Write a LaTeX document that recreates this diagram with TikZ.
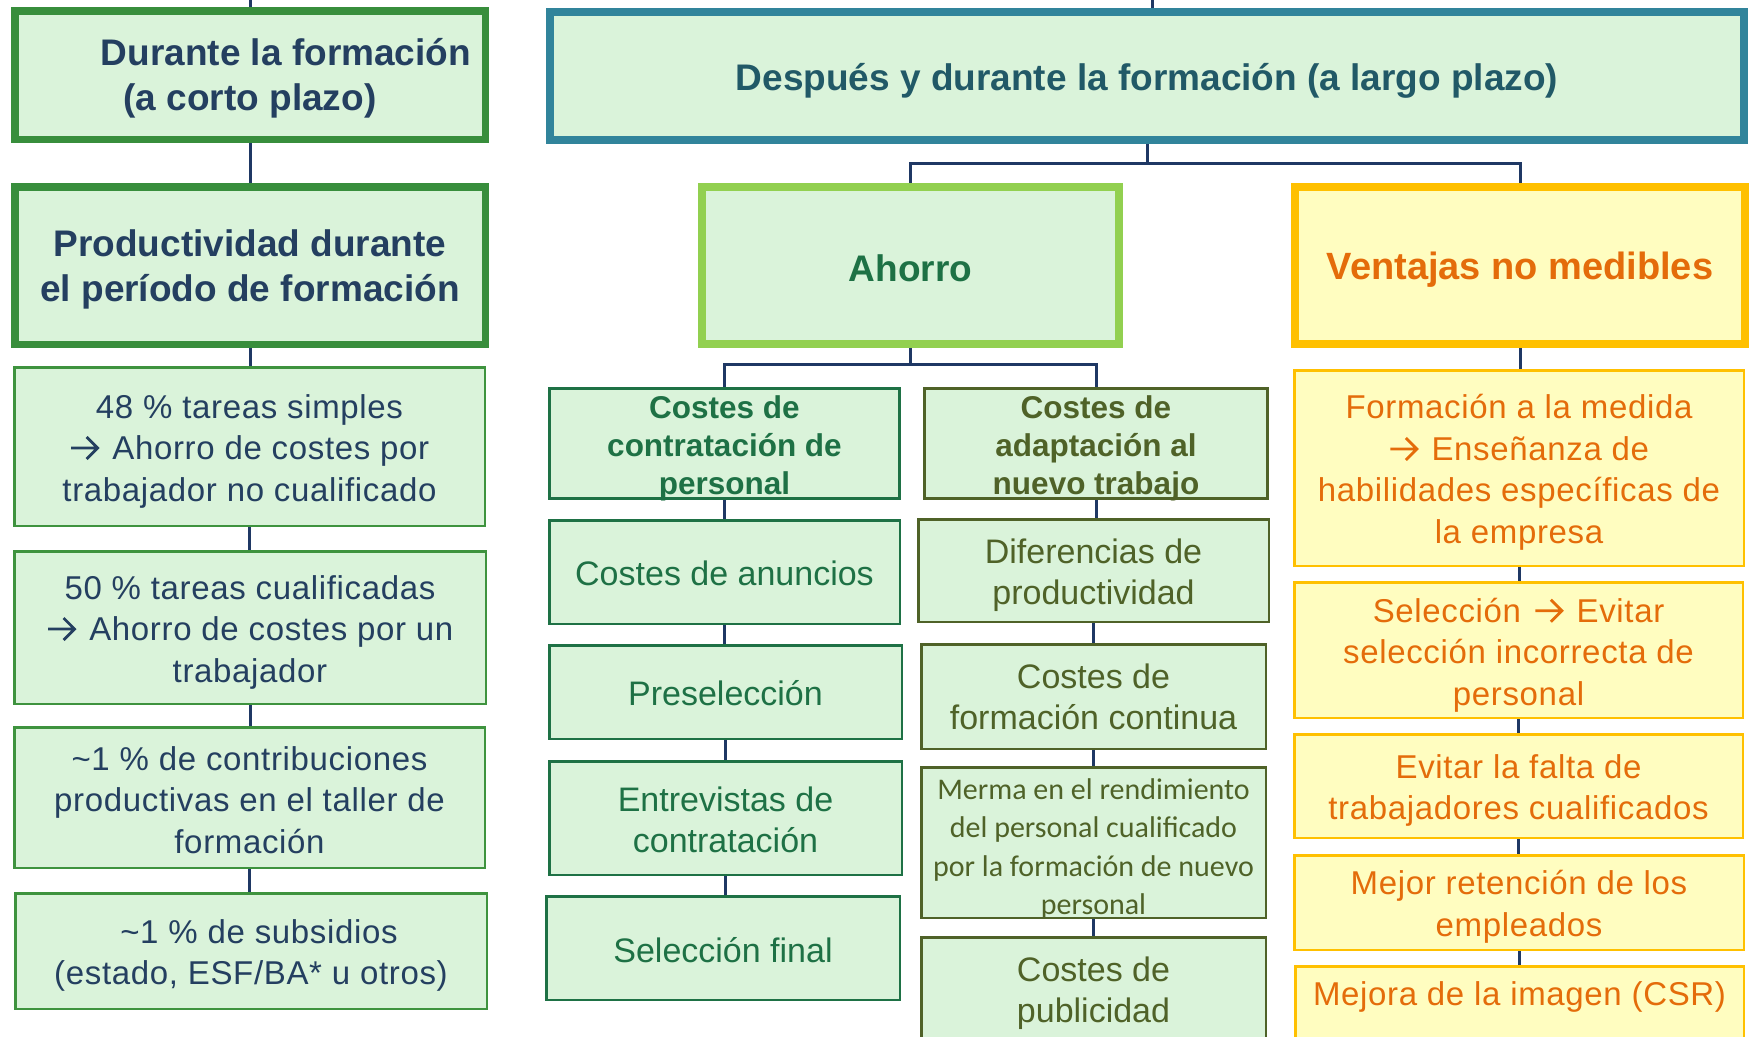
\documentclass[tikz,border=0pt]{standalone}
\usepackage{fontspec}
\setmainfont{Liberation Sans}
\newfontfamily\spacedfont[LetterSpace=2]{Liberation Sans}
\newfontfamily\calfont{Carlito}
\newcommand\arr{\tikz[baseline=0pt, x=1pt, y=1pt]{\draw[draw=., line width=2.8pt, line join=miter] (0,11.5) -- (26.5,11.5) (15.5,22.5) -- (26.5,11.5) -- (15.5,0.5);}\hspace{3.5pt}}
\definecolor{fillG}{HTML}{DAF3DA}
\definecolor{fillY}{HTML}{FFFDC0}
\definecolor{gThick}{HTML}{388E3C}
\definecolor{gThin}{HTML}{3E933E}
\definecolor{navy}{HTML}{243F60}
\definecolor{tealB}{HTML}{31849B}
\definecolor{tealT}{HTML}{215967}
\definecolor{lime}{HTML}{92D050}
\definecolor{gDark}{HTML}{1E7145}
\definecolor{olive}{HTML}{4F6228}
\definecolor{gold}{HTML}{FFC000}
\definecolor{orng}{HTML}{E46C0A}
\definecolor{connC}{HTML}{1F3864}
% #1 style, #2 name, #3-#6 outer corners (x1,y1,x2,y2), #7 text, #8 border width, #9 text drop
\newcommand\bx[9]{%
  \node[#1, line width=#8pt, minimum width={#5-#3-#8}, minimum height={#6-#4-#8}] (#2) at ({(#3+#5)/2},{(#4+#6)/2}) {};
  \node[#1-t] (#2-t) at ([yshift={-(#9)*1pt}]#2.center) {#7};}
\begin{document}
\begin{tikzpicture}[x=1pt,y=-1pt,
  box/.style={rectangle, inner sep=0pt},
  txt/.style={align=center, inner sep=0pt},
  bigL/.style={box, draw=gThick, fill=fillG},
  bigL-t/.style={txt, text=navy, font=\fontsize{37}{44.5}\selectfont\bfseries},
  bigT/.style={box, draw=tealB, fill=fillG},
  bigT-t/.style={txt, text=tealT, font=\fontsize{37}{44}\selectfont\bfseries},
  bigA/.style={box, draw=lime, fill=fillG},
  bigA-t/.style={txt, text=gDark, font=\fontsize{37}{44}\selectfont\bfseries},
  bigV/.style={box, draw=gold, fill=fillY},
  bigV-t/.style={txt, text=orng, font=\fontsize{38}{44}\selectfont\bfseries},
  leftbox/.style={box, draw=gThin, fill=fillG},
  leftbox-t/.style={txt, text=navy, font=\spacedfont\fontsize{33}{41.5}\selectfont},
  hdrC/.style={box, draw=gDark, fill=fillG},
  hdrC-t/.style={txt, text=gDark, font=\fontsize{31.5}{38}\selectfont\bfseries},
  hdrA/.style={box, draw=olive, fill=fillG},
  hdrA-t/.style={txt, text=olive, font=\fontsize{31.5}{38}\selectfont\bfseries},
  itemC/.style={box, draw=gDark, fill=fillG},
  itemC-t/.style={txt, text=gDark, font=\fontsize{34}{41}\selectfont},
  itemA/.style={box, draw=olive, fill=fillG},
  itemA-t/.style={txt, text=olive, font=\fontsize{34}{41}\selectfont},
  merma/.style={box, draw=olive, fill=fillG},
  merma-t/.style={txt, text=olive, font=\calfont\fontsize{30}{38.3}\selectfont},
  itemV/.style={box, draw=gold, fill=fillY},
  itemV-t/.style={txt, text=orng, font=\spacedfont\fontsize{33}{41.5}\selectfont},
  link/.style={draw=connC, line width=3pt},
]
\useasboundingbox[fill=white] (0,0) rectangle (1750,1036);
\coordinate (tL) at (250,-4);
\coordinate (tR) at (1152,-4);
% top level
\bx{bigL}{dur}{11}{7}{489}{143}{\hspace*{72pt}Durante la formación\\(a corto plazo)}{7.5}{3.5}
\bx{bigL}{prod}{11}{183}{489}{348}{Productividad durante\\el período de formación}{7.5}{4}
\bx{bigT}{desp}{546}{8}{1748}{144}{Después y durante la formación (a largo plazo)}{8}{4.5}
\bx{bigA}{ahorro}{698}{183}{1123}{348}{Ahorro}{8}{2.5}
\bx{bigV}{vent}{1291}{183}{1749}{348}{Ventajas no medibles}{8}{4.5}
% left column
\bx{leftbox}{l1}{13}{366}{486}{527}{48 \% tareas simples\\\arr\ Ahorro de costes por\\trabajador no cualificado}{2.5}{4.5}
\bx{leftbox}{l2}{13}{550}{487}{705}{50 \% tareas cualificadas\\\arr\ Ahorro de costes por un\\trabajador}{2.5}{4.5}
\bx{leftbox}{l3}{13}{726}{486}{869}{\textasciitilde1 \% de contribuciones\\productivas en el taller de\\formación}{2.5}{2.5}
\bx{leftbox}{l4}{14}{892}{488}{1010}{\hspace*{16pt}\textasciitilde1 \% de subsidios\\(estado, ESF/BA* u otros)}{2.5}{4.5}
% middle headers
\bx{hdrC}{hc}{548}{387}{901}{500}{Costes de\\contratación de\\personal}{3}{4.5}
\bx{hdrA}{ha}{923}{387}{1269}{500}{Costes de\\adaptación al\\nuevo trabajo}{3}{4.5}
% middle left items
\bx{itemC}{c1}{548}{519}{901}{625}{Costes de anuncios}{2.5}{1.5}
\bx{itemC}{c2}{548}{644}{903}{740}{Preselección}{2.5}{1.5}
\bx{itemC}{c3}{548}{760}{903}{876}{Entrevistas de\\contratación}{2.5}{1.5}
\bx{itemC}{c4}{545}{895}{901}{1001}{Selección final}{2.5}{2}
% middle right items
\bx{itemA}{a1}{917}{518}{1270}{623}{Diferencias de\\productividad}{2.5}{4.5}
\bx{itemA}{a2}{920}{643}{1267}{750}{Costes de\\formación continua}{2.5}{0.5}
\bx{merma}{a3}{920}{766}{1267}{919}{Merma en el rendimiento\\del personal cualificado\\por la formación de nuevo\\personal}{2.5}{6.5}
\bx{itemA}{a4}{920}{936}{1267}{1040}{Costes de\\publicidad}{2.5}{5.5}
% right column
\bx{itemV}{v1}{1293}{369}{1745}{567}{Formación a la medida\\\arr\ Enseñanza de\\habilidades específicas de\\la empresa}{2.5}{4.5}
\bx{itemV}{v2}{1293}{581}{1744}{719}{Selección\hspace{3pt} \arr\ Evitar\\selección incorrecta de\\personal}{2.5}{5}
\bx{itemV}{v3}{1293}{733}{1744}{839}{Evitar la falta de\\trabajadores cualificados}{2.5}{4.5}
\bx{itemV}{v4}{1293}{854}{1745}{951}{Mejor retención de los\\empleados}{2.5}{4.5}
\bx{itemV}{v5}{1294}{965}{1745}{1067}{Mejora de la imagen (CSR)}{2.5}{-19}
% connectors
\draw[link] (tL) -- (dur.north);
\draw[link] (tR) -- (tR |- desp.north);
\draw[link] (dur.south) -- (dur.south |- prod.north);
\foreach \a/\b in {prod/l1, l1/l2, l2/l3, l3/l4, hc/c1, c1/c2, c2/c3, c3/c4, ha/a1, a1/a2, a2/a3, a3/a4, vent/v1, v1/v2, v2/v3, v3/v4, v4/v5}
  \draw[link] (\a.south) -- (\a.south |- \b.north);
\draw[link] (desp.south) -- ++(0,19) -| (ahorro.north);
\draw[link] (desp.south) -- ++(0,19) -| (vent.north);
\draw[link] (ahorro.south) -- ++(0,16) -| (hc.north);
\draw[link] (ahorro.south) -- ++(0,16) -| (ha.north);
\end{tikzpicture}
\end{document}
